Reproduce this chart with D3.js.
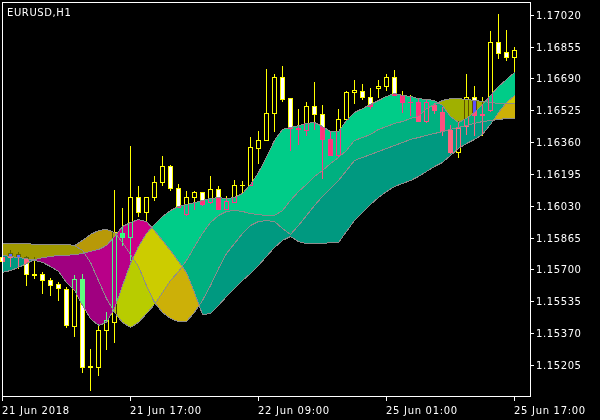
<!DOCTYPE html>
<html><head><meta charset="utf-8">
<script src="https://cdn.jsdelivr.net/npm/d3@7"></script>
<style>html,body{margin:0;padding:0;background:#000;overflow:hidden}svg{display:block;isolation:isolate}</style>
</head><body>
<svg id="chart" width="600" height="420"></svg>
<script>
// ---- data (EURUSD H1, bar 0 = 21 Jun 2018 01:00) ----
const open  = [1.15765,1.15785,1.15780,1.15765,1.15676,1.15674,1.15645,1.15625,1.15601,1.15409,1.15653,1.15200,1.15197,1.15386,1.15430,1.15891,1.15868,1.16073,1.16000,1.16073,1.16151,1.16236,1.16122,1.15987,1.16073,1.16099,1.16047,1.16119,1.16013,1.16052,1.16140,1.16137,1.16327,1.16373,1.16513,1.16695,1.16586,1.16430,1.16423,1.16547,1.16505,1.16378,1.16293,1.16482,1.16619,1.16625,1.16591,1.16638,1.16650,1.16695,1.16606,1.16570,1.16570,1.16467,1.16552,1.16518,1.16423,1.16311,1.16441,1.16591,1.16500,1.16526,1.16876,1.16827,1.16803];
const high  = [1.15775,1.15801,1.15790,1.15770,1.15765,1.15687,1.15658,1.15635,1.15609,1.15671,1.15679,1.15288,1.15417,1.15482,1.16112,1.16016,1.16340,1.16132,1.16075,1.16182,1.16288,1.16241,1.16143,1.16106,1.16106,1.16101,1.16184,1.16132,1.16078,1.16161,1.16158,1.16384,1.16417,1.16741,1.16715,1.16754,1.16588,1.16529,1.16570,1.16669,1.16552,1.16415,1.16529,1.16622,1.16682,1.16661,1.16638,1.16679,1.16713,1.16733,1.16622,1.16606,1.16583,1.16581,1.16562,1.16544,1.16448,1.16467,1.16713,1.16650,1.16596,1.16933,1.17024,1.16941,1.16850];
const low   = [1.15728,1.15718,1.15708,1.15619,1.15656,1.15578,1.15568,1.15542,1.15404,1.15353,1.15171,1.15075,1.15153,1.15290,1.15322,1.15827,1.15749,1.15977,1.15956,1.16060,1.16138,1.16112,1.16024,1.15982,1.16013,1.16034,1.16044,1.16011,1.16011,1.16049,1.16101,1.16135,1.16249,1.16371,1.16415,1.16575,1.16321,1.16352,1.16397,1.16430,1.16176,1.16293,1.16290,1.16480,1.16560,1.16581,1.16539,1.16591,1.16632,1.16604,1.16518,1.16500,1.16467,1.16464,1.16511,1.16397,1.16303,1.16285,1.16404,1.16397,1.16397,1.16521,1.16798,1.16783,1.16723];
const close = [1.15744,1.15765,1.15765,1.15676,1.15671,1.15643,1.15619,1.15604,1.15410,1.15653,1.15197,1.15195,1.15386,1.15438,1.15894,1.15868,1.16075,1.16000,1.16073,1.16151,1.16236,1.16122,1.16026,1.16073,1.16099,1.16039,1.16119,1.16013,1.16057,1.16135,1.16135,1.16332,1.16373,1.16513,1.16695,1.16581,1.16433,1.16433,1.16547,1.16503,1.16376,1.16293,1.16482,1.16619,1.16630,1.16591,1.16547,1.16650,1.16695,1.16606,1.16570,1.16568,1.16469,1.16565,1.16526,1.16415,1.16311,1.16435,1.16591,1.16500,1.16505,1.16876,1.16824,1.16803,1.16837];
// four indicator lines; clouds are filled between line1-line2, line2-line3, line3-line4
const line1 = [1.15775,1.15770,1.15764,1.15759,1.15749,1.15739,1.15718,1.15692,1.15635,1.15594,1.15516,1.15448,1.15412,1.15428,1.15500,1.15619,1.15733,1.15821,1.15889,1.15935,1.15977,1.16008,1.16029,1.16039,1.16049,1.16060,1.16070,1.16075,1.16070,1.16075,1.16096,1.16143,1.16205,1.16283,1.16371,1.16428,1.16438,1.16448,1.16459,1.16464,1.16443,1.16417,1.16417,1.16474,1.16516,1.16536,1.16557,1.16578,1.16599,1.16614,1.16604,1.16599,1.16588,1.16583,1.16578,1.16552,1.16495,1.16464,1.16485,1.16516,1.16557,1.16604,1.16650,1.16687,1.16723];
const line2 = [1.15837,1.15837,1.15837,1.15837,1.15832,1.15832,1.15832,1.15832,1.15832,1.15827,1.15801,1.15739,1.15645,1.15552,1.15480,1.15428,1.15402,1.15428,1.15474,1.15521,1.15583,1.15645,1.15692,1.15749,1.15821,1.15889,1.15946,1.15982,1.16003,1.16008,1.16003,1.15992,1.15987,1.15982,1.15982,1.16008,1.16060,1.16106,1.16143,1.16184,1.16215,1.16252,1.16283,1.16319,1.16371,1.16386,1.16402,1.16428,1.16443,1.16459,1.16469,1.16485,1.16495,1.16536,1.16557,1.16578,1.16588,1.16588,1.16583,1.16578,1.16573,1.16568,1.16562,1.16562,1.16562];
const line3 = [1.15837,1.15837,1.15837,1.15837,1.15832,1.15832,1.15832,1.15832,1.15832,1.15827,1.15853,1.15884,1.15904,1.15910,1.15894,1.15842,1.15780,1.15718,1.15619,1.15531,1.15480,1.15448,1.15433,1.15433,1.15480,1.15542,1.15619,1.15707,1.15785,1.15837,1.15889,1.15930,1.15951,1.15956,1.15951,1.15915,1.15884,1.15930,1.15982,1.16034,1.16081,1.16122,1.16163,1.16215,1.16267,1.16283,1.16298,1.16314,1.16329,1.16345,1.16360,1.16376,1.16386,1.16397,1.16407,1.16417,1.16428,1.16438,1.16448,1.16459,1.16469,1.16474,1.16479,1.16485,1.16485];
const line4 = [1.15687,1.15697,1.15713,1.15733,1.15754,1.15764,1.15770,1.15775,1.15775,1.15780,1.15785,1.15796,1.15806,1.15827,1.15873,1.15925,1.15946,1.15961,1.15951,1.15904,1.15853,1.15801,1.15744,1.15687,1.15583,1.15469,1.15474,1.15516,1.15562,1.15604,1.15645,1.15682,1.15723,1.15770,1.15816,1.15853,1.15873,1.15847,1.15837,1.15837,1.15837,1.15842,1.15842,1.15899,1.15956,1.15998,1.16039,1.16075,1.16106,1.16132,1.16148,1.16163,1.16184,1.16210,1.16236,1.16257,1.16293,1.16329,1.16355,1.16376,1.16402,1.16454,1.16516,1.16568,1.16604];
const priceTicks = [1.17020,1.16855,1.16690,1.16525,1.16360,1.16195,1.16030,1.15865,1.15700,1.15535,1.15370,1.15205];
const timeTickBars = [0,16,32,48,64];
const timeTickLabels = ["21 Jun 2018","21 Jun 17:00","22 Jun 09:00","25 Jun 01:00","25 Jun 17:00"];
const title = "EURUSD,H1";

// ---- scales ----
const W = 600, H = 420;
const n = close.length;
const x = d3.scaleLinear().domain([0, n - 1]).range([2, 514]);          // pixel column of bar
const y = d3.scaleLinear().domain([1.15205, 1.17020]).range([365, 14.67]);
const py = v => Math.round(y(v));

const svg = d3.select("#chart");
svg.append("rect").attr("width", W).attr("height", H).attr("fill", "#000");

// ---- clouds: three bands between consecutive lines, XOR-composited like MT4 ----
const lines = [line1, line2, line3, line4];
const bands = [
  {a: 0, b: 1, up: [0x00,0xcc,0x88], dn: [0xa0,0x00,0x80]},
  {a: 1, b: 2, up: [0x00,0xb0,0x80], dn: [0xb8,0x00,0x88]},
  {a: 2, b: 3, up: [0x00,0x99,0x80], dn: [0xcc,0x00,0x88]}
];
const acc = new Uint8ClampedArray(W * H * 4);
function valAt(arr, t) {
  const i = Math.max(0, Math.min(Math.floor(t), arr.length - 2));
  const f = t - i;
  return arr[i] * (1 - f) + arr[i + 1] * f;
}
bands.forEach(bd => {
  const x0 = x(0), x1 = x(n - 1);
  for (let px = x0; px <= x1; px++) {
    const t = x.invert(px);
    const va = valAt(lines[bd.a], t), vb = valAt(lines[bd.b], t);
    const ya = py(va), yb = py(vb);
    if (ya === yb) continue;
    const col = va > vb ? bd.up : bd.dn;
    const t0 = Math.max(3, Math.min(ya, yb)), t1 = Math.min(396, Math.max(ya, yb));
    for (let r = t0; r < t1; r++) {
      const i = (r * W + px) * 4;
      acc[i] ^= col[0]; acc[i + 1] ^= col[1]; acc[i + 2] ^= col[2];
    }
  }
});
const cv = document.createElement("canvas");
cv.width = W; cv.height = H;
const ctx = cv.getContext("2d");
const img = ctx.createImageData(W, H);
for (let i = 0; i < acc.length; i += 4) {
  img.data[i] = acc[i]; img.data[i + 1] = acc[i + 1]; img.data[i + 2] = acc[i + 2]; img.data[i + 3] = 255;
}
ctx.putImageData(img, 0, 0);
svg.append("image").attr("x", 0).attr("y", 0).attr("width", W).attr("height", H)
  .attr("href", cv.toDataURL()).style("image-rendering", "pixelated");

// ---- candles (difference blend == XOR for yellow/white) ----
const cg = svg.append("g").attr("shape-rendering", "crispEdges");
d3.range(n).forEach(k => {
  const cx = x(k);
  const yo = py(open[k]), yc = py(close[k]), yh = py(high[k]), yl = py(low[k]);
  const top = Math.min(yo, yc), bot = Math.max(yo, yc);
  const bull = close[k] > open[k];
  const g = cg.append("g").style("mix-blend-mode", "difference");
  if (top > yh) g.append("rect").attr("x", cx).attr("y", yh).attr("width", 1).attr("height", top - yh).attr("fill", "#ffff00");
  if (yl > bot) g.append("rect").attr("x", cx).attr("y", bot + 1).attr("width", 1).attr("height", yl - bot).attr("fill", "#ffff00");
  if (bot - top < 1) {
    g.append("rect").attr("x", cx - 2).attr("y", top).attr("width", 5).attr("height", 1).attr("fill", "#ffff00");
  } else {
    g.append("rect").attr("x", cx - 1.5).attr("y", top + 0.5).attr("width", 4).attr("height", bot - top)
      .attr("fill", bull ? "none" : "#ffffff").attr("stroke", "#ffff00").attr("stroke-width", 1);
  }
});

// ---- indicator lines ----
const lg = svg.append("g").attr("shape-rendering", "crispEdges");
lines.forEach(arr => {
  lg.append("path").attr("d", d3.line().x((d, i) => x(i) + 0.5).y(d => y(d) + 0.5)(arr))
    .attr("fill", "none").attr("stroke", "#8c8c8c").attr("stroke-width", 1);
});

// ---- frame & axes ----
const ax = svg.append("g").attr("shape-rendering", "crispEdges");
ax.append("rect").attr("x", 2.5).attr("y", 2.5).attr("width", 528).attr("height", 394)
  .attr("fill", "none").attr("stroke", "#fff");
const font = "DejaVu Sans";
priceTicks.forEach(p => {
  const ty = py(p) + 0.5;
  ax.append("line").attr("x1", 530).attr("x2", 534).attr("y1", ty).attr("y2", ty).attr("stroke", "#fff");
  svg.append("text").attr("x", 536).attr("y", ty + 3.6).text(p.toFixed(5))
    .attr("fill", "#fff").attr("font-family", font).attr("font-size", 10).attr("letter-spacing", 0.6);
});
timeTickBars.forEach((b, i) => {
  const tx = x(b) + 0.5;
  ax.append("line").attr("x1", tx).attr("x2", tx).attr("y1", 397).attr("y2", 401).attr("stroke", "#fff");
  svg.append("text").attr("x", x(b)).attr("y", 414).text(timeTickLabels[i])
    .attr("fill", "#fff").attr("font-family", font).attr("font-size", 10).attr("letter-spacing", 0.7);
});
svg.append("text").attr("x", 7).attr("y", 16).text(title)
  .attr("fill", "#fff").attr("font-family", font).attr("font-size", 10).attr("letter-spacing", 0.6);
</script>
</body></html>
